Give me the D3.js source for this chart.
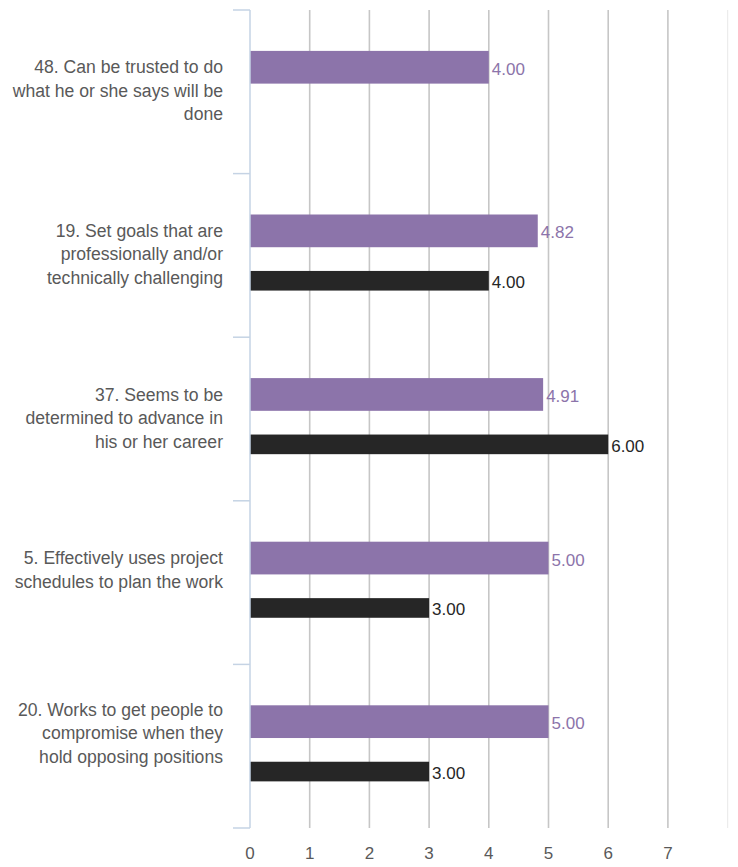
<!DOCTYPE html>
<html>
<head>
<meta charset="utf-8">
<script src="https://cdn.jsdelivr.net/npm/d3@7"></script>
<style>
  html, body { margin: 0; padding: 0; background: #fff; }
  svg { display: block; font-family: "Liberation Sans", Arial, sans-serif; }
</style>
</head>
<body>
<div id="chart"></div>
<script>
// categories, top to bottom, split into the wrapped lines of the original
// (a trailing '' is the blank wrap line the original label carries)
const categories = [
  ['48. Can be trusted to do', 'what he or she says will be', 'done'],
  ['19. Set goals that are', 'professionally and/or', 'technically challenging'],
  ['37. Seems to be', 'determined to advance in', 'his or her career'],
  ['5. Effectively uses project', 'schedules to plan the work', ''],
  ['20. Works to get people to', 'compromise when they', 'hold opposing positions', '']
];
const purpleValues = [4.00, 4.82, 4.91, 5.00, 5.00];
const blackValues = [null, 4.00, 6.00, 3.00, 3.00];
const xTicks = [0, 1, 2, 3, 4, 5, 6, 7];
const xMax = 8;

const width = 738, height = 867;
const plot = {left: 250, right: 727.6, top: 10, bottom: 828};
const purple = '#8c74aa', dark = '#262626', textGrey = '#595959';

const svg = d3.select('#chart').append('svg')
  .attr('width', width)
  .attr('height', height);

const keys = categories.map((c, i) => i);
const x = d3.scaleLinear().domain([0, xMax]).range([plot.left, plot.right]);
const y = d3.scaleBand().domain(keys).range([plot.top, plot.bottom]);
const bw = y.bandwidth();

// series: where each bar sits inside its band
const series = [
  {values: purpleValues, color: purple, from: 0.25, to: 0.45},
  {values: blackValues, color: dark, from: 0.595, to: 0.715}
];

// vertical gridlines
svg.append('g')
  .selectAll('line')
  .data(xTicks.filter(t => t > 0))
  .join('line')
    .attr('x1', d => x(d)).attr('x2', d => x(d))
    .attr('y1', plot.top).attr('y2', plot.bottom)
    .attr('stroke', '#c6c6c6')
    .attr('stroke-width', 1.6);

// faint edge of plot area at the axis max
svg.append('line')
  .attr('x1', x(xMax)).attr('x2', x(xMax))
  .attr('y1', plot.top).attr('y2', plot.bottom)
  .attr('stroke', '#ececec')
  .attr('stroke-width', 1.2);

// bars
series.forEach(s => {
  const rows = s.values.map((v, i) => ({i, v})).filter(d => d.v != null);
  const g = svg.append('g');
  g.selectAll('rect')
    .data(rows)
    .join('rect')
      .attr('x', x(0))
      .attr('y', d => y(d.i) + bw * s.from)
      .attr('width', d => x(d.v) - x(0))
      .attr('height', bw * (s.to - s.from))
      .attr('fill', s.color);
  g.selectAll('text')
    .data(rows)
    .join('text')
      .attr('x', d => x(d.v) + 3)
      .attr('y', d => y(d.i) + bw * (s.from + s.to) / 2 + 3)
      .attr('dominant-baseline', 'middle')
      .attr('font-size', 17)
      .attr('fill', s.color)
      .text(d => d.v.toFixed(2));
});

// left axis with band boundary ticks
const axisG = svg.append('g').attr('stroke', '#c5d3e4').attr('stroke-width', 1.5);
axisG.append('line')
  .attr('x1', plot.left).attr('x2', plot.left)
  .attr('y1', plot.top).attr('y2', plot.bottom);
axisG.selectAll('line.tick')
  .data(keys.map(k => y(k)).concat([plot.bottom]))
  .join('line')
    .attr('class', 'tick')
    .attr('x1', plot.left - 17).attr('x2', plot.left)
    .attr('y1', d => d).attr('y2', d => d);

// category labels, centred on their band
const lineH = 23.5;
svg.append('g')
  .selectAll('text')
  .data(categories)
  .join('text')
    .attr('text-anchor', 'end')
    .attr('font-size', 17.6)
    .attr('fill', textGrey)
    .attr('dominant-baseline', 'middle')
    .each(function(lines, i) {
      const first = y(i) + bw / 2 - (lines.length - 1) / 2 * lineH;
      d3.select(this).selectAll('tspan')
        .data(lines)
        .join('tspan')
          .attr('x', plot.left - 27)
          .attr('y', (d, j) => first + j * lineH)
          .text(d => d);
    });

// x tick labels
svg.append('g')
  .selectAll('text')
  .data(xTicks)
  .join('text')
    .attr('x', d => x(d))
    .attr('y', 855)
    .attr('text-anchor', 'middle')
    .attr('dominant-baseline', 'middle')
    .attr('font-size', 17)
    .attr('fill', textGrey)
    .text(d => d);
</script>
</body>
</html>
